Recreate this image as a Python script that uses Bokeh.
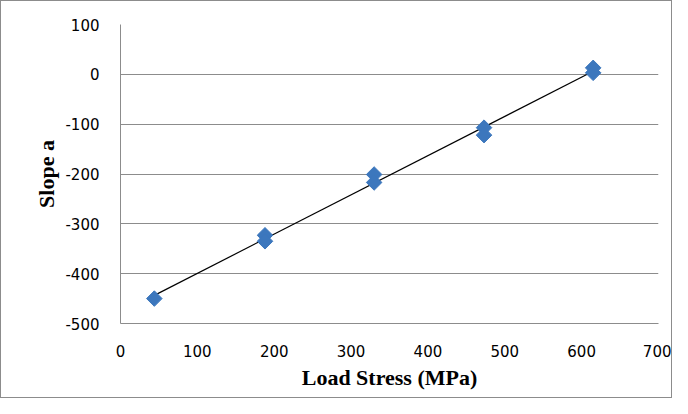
import numpy as np
from bokeh.plotting import figure
from bokeh.models import Range1d, FixedTicker, CustomJSTickFormatter
from bokeh.embed import file_html
from bokeh.resources import INLINE

# Data
load_stress = [44, 188, 188, 330, 330, 473, 473, 615, 615]
slope_a = [-450, -323, -335, -201, -217, -107, -122, 13, 3]
x_ticks = [0, 100, 200, 300, 400, 500, 600, 700]
y_ticks = [-500, -400, -300, -200, -100, 0, 100]

p = figure(width=672, height=398, output_backend="svg", toolbar_location=None,
           x_range=Range1d(0, 700), y_range=Range1d(-500, 100),
           min_border_left=119, min_border_right=15, min_border_top=23, min_border_bottom=76)

p.outline_line_color = None
p.background_fill_color = "white"
p.border_fill_color = "white"

# grid
p.xgrid.grid_line_color = None
p.ygrid.grid_line_color = "#8c8c8c"
p.ygrid.grid_line_width = 1
p.xaxis.ticker = FixedTicker(ticks=x_ticks)
p.yaxis.ticker = FixedTicker(ticks=y_ticks)
fmt = CustomJSTickFormatter(code="return tick.toFixed(0);")
p.xaxis.formatter = fmt
p.yaxis.formatter = fmt

for ax in (p.xaxis[0], p.yaxis[0]):
    ax.axis_line_color = "#8c8c8c"
    ax.major_tick_line_color = None
    ax.minor_tick_line_color = None
    ax.major_label_text_font = "DejaVu Sans"
    ax.major_label_text_font_size = "15px"
    ax.major_label_text_color = "#000000"
    ax.axis_label_text_font = "Liberation Serif"
    ax.axis_label_text_font_style = "bold"
    ax.axis_label_text_font_size = "22px"
    ax.axis_label_text_color = "#000000"

p.xaxis.axis_label = "Load Stress (MPa)"
p.yaxis.axis_label = "Slope a"
p.xaxis.major_label_standoff = 15
p.yaxis.major_label_standoff = 15
p.xaxis.axis_label_standoff = 5
p.yaxis.axis_label_standoff = 3

# trendline (least squares from data)
k, b = np.polyfit(load_stress, slope_a, 1)
xs = [min(load_stress), max(load_stress)]
p.line(xs, [k * x + b for x in xs], line_color="black", line_width=1.2)

p.scatter(load_stress, slope_a, marker="square", size=11, angle=np.pi / 4,
          fill_color="#3c77bd", line_color="#3c77bd")

p.styles = {"border": "1px solid #8c8c8c"}

open("out.html", "w").write(file_html(p, INLINE))
